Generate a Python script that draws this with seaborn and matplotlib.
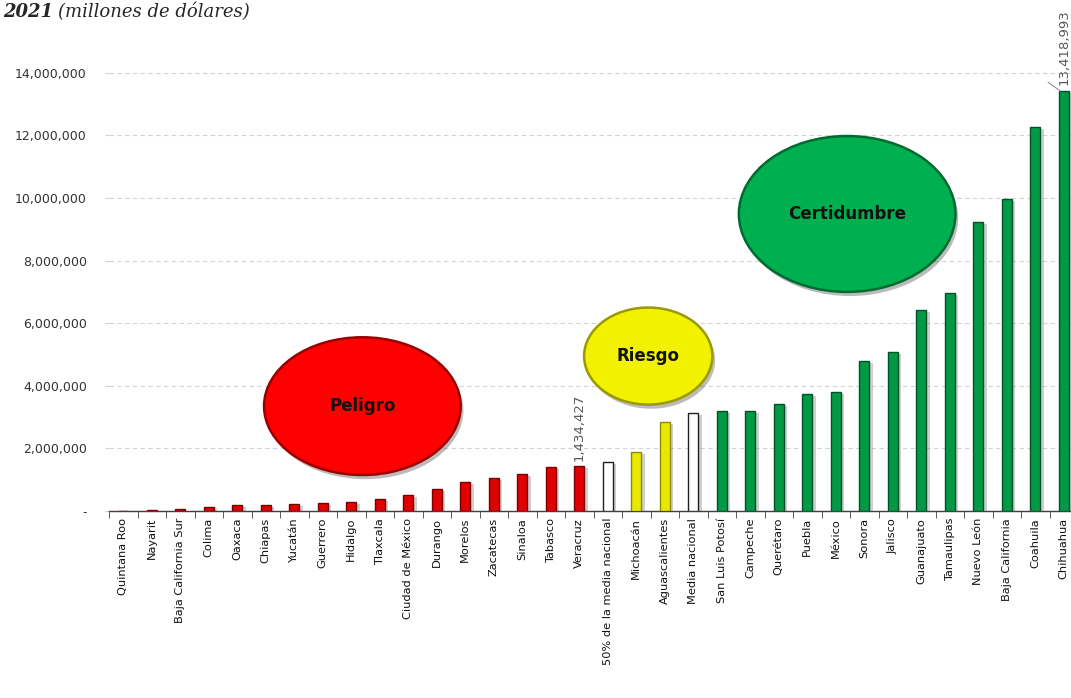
#!/usr/bin/env python3
# coding=utf-8

from matplotlib import pyplot as plt
from matplotlib.patches import Ellipse
from matplotlib.ticker import FuncFormatter, FixedLocator
import matplotlib.patheffects as pe
import pandas as pd
import seaborn as sns
import numpy as np

# datos (miles de dolares)
estados = ["Quintana Roo", "Nayarit", "Baja California Sur", "Colima", "Oaxaca", "Chiapas",
           "Yucatán", "Guerrero", "Hidalgo", "Tlaxcala", "Ciudad de México", "Durango",
           "Morelos", "Zacatecas", "Sinaloa", "Tabasco", "Veracruz", "50% de la media nacional",
           "Michoacán", "Aguascalientes", "Media nacional", "San Luis Potosí", "Campeche",
           "Querétaro", "Puebla", "México", "Sonora", "Jalisco", "Guanajuato", "Tamaulipas",
           "Nuevo León", "Baja California", "Coahuila", "Chihuahua"]

valores = [15000, 20000, 60000, 140000, 180000, 180000, 220000, 250000, 300000, 385000,
           500000, 700000, 915000, 1055000, 1170000, 1405000, 1434427, 1565000, 1875000,
           2835000, 3130000, 3210000, 3210000, 3420000, 3730000, 3795000, 4790000, 5070000,
           6430000, 6960000, 9220000, 9960000, 12270000, 13418993]

grupos = (["Peligro"] * 17 + ["Referencia"] + ["Riesgo"] * 2 + ["Referencia"]
          + ["Certidumbre"] * 13)

etiquetas = {"Veracruz": 1434427, "Chihuahua": 13418993}

colores = {"Peligro": "#E00000", "Riesgo": "#E8E800", "Certidumbre": "#009A44", "Referencia": "#FFFFFF"}
bordes = {"Peligro": "#7A0000", "Riesgo": "#8A8A00", "Certidumbre": "#00512A", "Referencia": "#202020"}

df = pd.DataFrame({"estado": estados, "valor": valores, "grupo": grupos})

sns.set_style("white")
plt.rcParams["font.family"] = ["DejaVu Sans"]

fig = plt.figure(figsize=(10.71, 6.98), dpi=100)
ax = fig.add_axes([109 / 1071, 187 / 698, 969 / 1071, (511 - 41.5) / 698])

paleta = [colores[g] for g in grupos]
sns.barplot(data=df, x="estado", y="valor", hue="estado", palette=paleta, order=estados,
            hue_order=estados, width=0.34, legend=False, ax=ax, saturation=1)

for patch, g in zip(ax.patches, grupos):
    patch.set_edgecolor(bordes[g])
    patch.set_linewidth(1.0)
    patch.set_zorder(3)
    patch.set_path_effects([pe.SimplePatchShadow(offset=(2.5, -1.5), shadow_rgbFace="#777777", alpha=0.35),
                            pe.Normal()])

ax.set_xlim(-0.5, len(estados) - 0.5)
ax.set_ylim(0, 15000000)

# ejes
ax.yaxis.set_major_locator(FixedLocator(np.arange(0, 14000001, 2000000)))
ax.yaxis.set_major_formatter(FuncFormatter(lambda v, p: "-" if v == 0 else f"{v:,.0f}"))
ax.grid(axis="y", color="#D3D3D3", linestyle=(0, (4, 3)), linewidth=0.8, zorder=0)
ax.set_axisbelow(True)
for s in ["top", "right", "left"]:
    ax.spines[s].set_visible(False)
ax.spines["bottom"].set_color("#404040")
ax.spines["bottom"].set_linewidth(1.0)

ax.tick_params(axis="y", length=3, color="#D0D0D0", pad=13, labelsize=9, labelcolor="#333333", left=True)
ax.set_xticks(range(len(estados)))
ax.set_xticklabels(estados, rotation=90, fontsize=8.2, color="#111111")
ax.tick_params(axis="x", length=0, pad=5)
ax.set_xticks(np.arange(-0.5, len(estados), 1), minor=True)
ax.tick_params(axis="x", which="minor", length=5, color="#404040", bottom=True)
ax.set_xlabel("")
ax.set_ylabel("")

# etiquetas de datos
for nombre, v in etiquetas.items():
    i = estados.index(nombre)
    ax.annotate(f"{v:,}", (i, v), xytext=(0, 4), textcoords="offset points", rotation=90,
                ha="center", va="bottom", fontsize=9.5, color="#595959")
i = estados.index("Chihuahua")
ax.plot([i - 0.55, i - 0.12], [valores[i] + 280000, valores[i]], color="#909090", lw=0.8, zorder=4)

# elipses de clasificacion
elipses = [("Peligro", 8.39, 3350000, 6.9, 4400000, "#FF0000", "#9A0000"),
           ("Riesgo", 18.42, 4950000, 4.5, 3100000, "#F2F200", "#9A9A00"),
           ("Certidumbre", 25.4, 9490000, 7.6, 4980000, "#00B050", "#006B30")]
for texto, cx, cy, w, h, fc, ec in elipses:
    e = Ellipse((cx, cy), w, h, facecolor=fc, edgecolor=ec, linewidth=1.8, zorder=5)
    e.set_path_effects([pe.SimplePatchShadow(offset=(2, -3), shadow_rgbFace="#555555", alpha=0.4),
                        pe.Normal()])
    ax.add_patch(e)
    ax.text(cx, cy, texto, ha="center", va="center", fontsize=12, fontweight="bold",
            color="#111111", zorder=6)

# titulo en la parte superior
fig.text(3 / 1071, 1 - 17 / 698, "2021", ha="left", va="baseline", fontsize=13,
         family="DejaVu Serif", style="italic", fontweight="bold")
fig.text(58 / 1071, 1 - 17 / 698, "(millones de dólares)", ha="left", va="baseline", fontsize=13,
         family="DejaVu Serif", style="italic")

plt.savefig("out.png", dpi=100)
plt.close(fig)
